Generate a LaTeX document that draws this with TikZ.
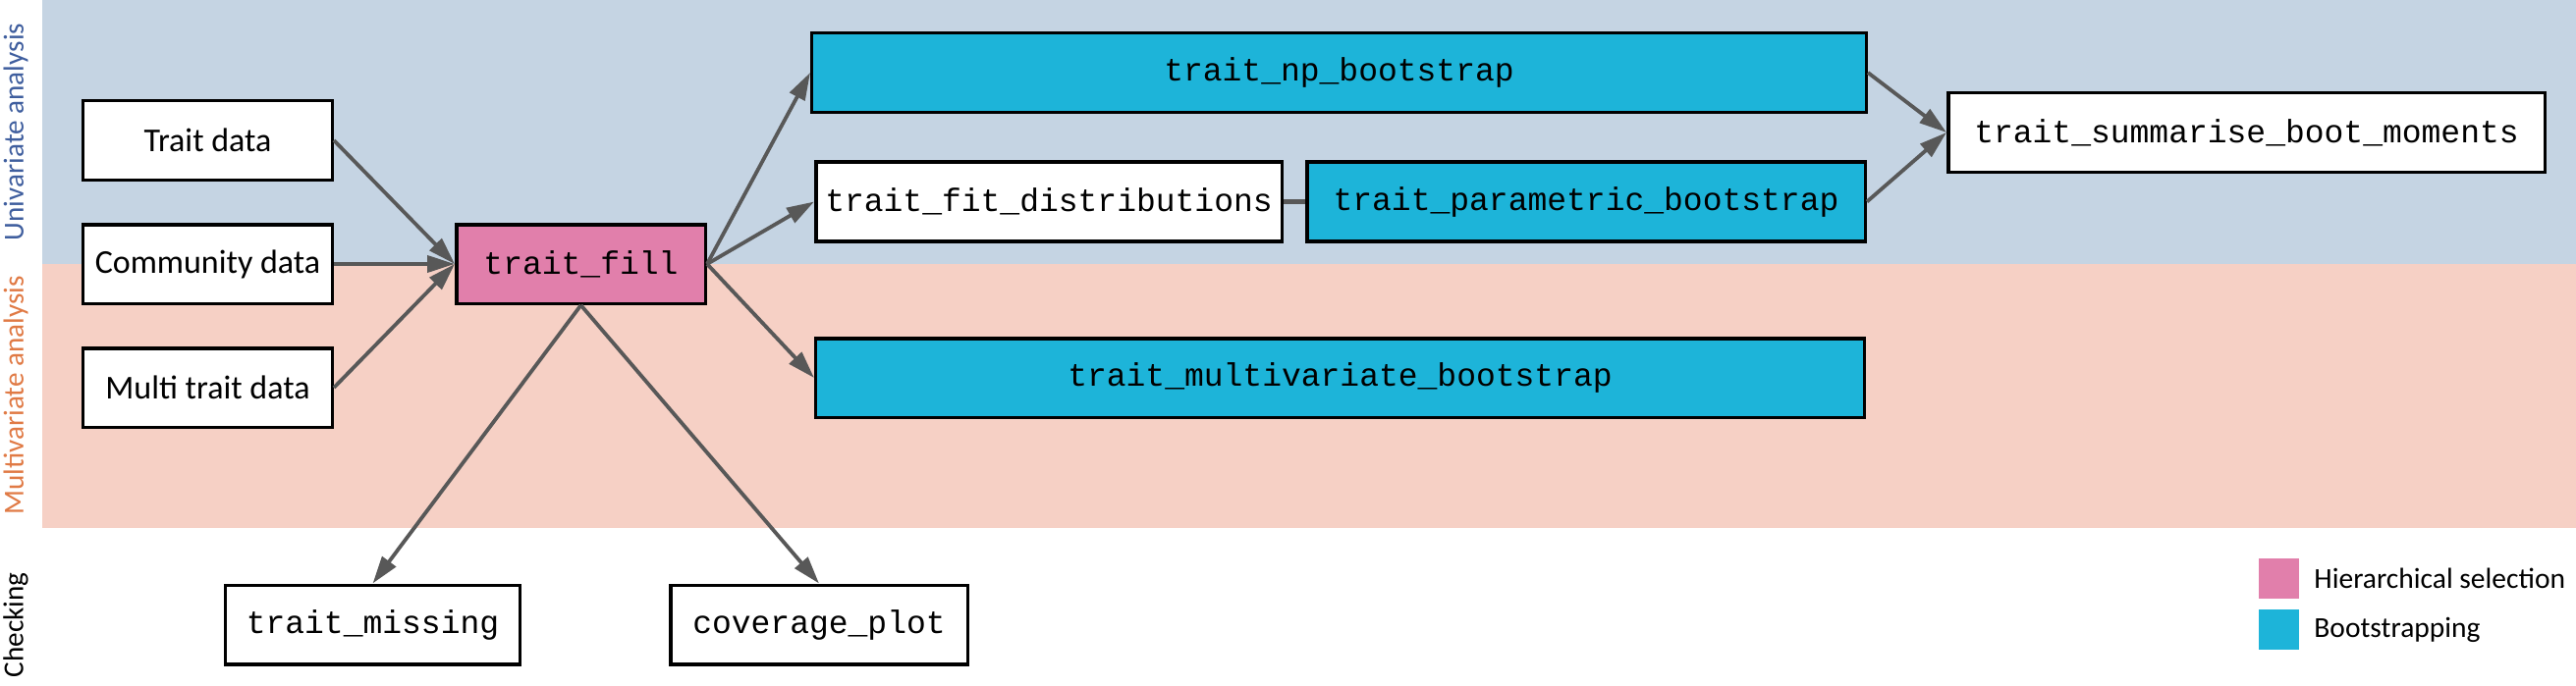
\documentclass[tikz,border=0pt]{standalone}
\usepackage{fontspec}
\setmainfont{Carlito}
\newfontfamily\codefont{Liberation Mono}
\usetikzlibrary{arrows.meta}
\definecolor{bandblue}{HTML}{C5D4E3}
\definecolor{bandpink}{HTML}{F6D0C5}
\definecolor{hierpink}{HTML}{E17FAB}
\definecolor{bootblue}{HTML}{1DB4D9}
\definecolor{arrowgray}{HTML}{585858}
\definecolor{unicol}{HTML}{3F5E9E}
\definecolor{multicol}{HTML}{E07A45}
\begin{document}
\begin{tikzpicture}[x=0.5bp,y=-0.5bp,
  box/.style={draw=black, line width=1.75bp, fill=white, inner sep=0pt, minimum height=40.25bp},
  codebox/.style={box, font=\codefont\fontsize{16.5bp}{20bp}\selectfont},
  textbox/.style={box, minimum width=126.75bp, font=\fontsize{17bp}{20bp}\selectfont},
  hier/.style={fill=hierpink},
  boot/.style={fill=bootblue},
  conn/.style={draw=arrowgray, line width=1.9bp, -{Triangle[length=14bp,width=8.5bp]}},
  plainconn/.style={draw=arrowgray, line width=2.2bp},
  sidelabel/.style={rotate=90, inner sep=0pt, font=\fontsize{14.6bp}{17bp}\selectfont},
  legsq/.style={minimum size=20.5bp, inner sep=0pt},
  legtext/.style={anchor=west, inner sep=0pt, font=\fontsize{14.75bp}{17bp}\selectfont}
]
\useasboundingbox (0,0) rectangle (2623,698);
% bands
\fill[bandblue] (43,0) rectangle (2623,269);
\fill[bandpink] (43,269) rectangle (2623,538);
% side labels
\node[sidelabel, text=unicol] (lu) at (16,134.5) {Univariate analysis};
\node[sidelabel, text=multicol] (lm) at (16,403) {Multivariate analysis};
\node[sidelabel, text=black] (lc) at (16,637) {Checking};
% input nodes
\node[textbox] (trait) at (211.5,143) {Trait data};
\node[textbox] (comm) at (211.5,269) {Community data};
\node[textbox] (multi) at (211.5,395) {Multi trait data};
% functions
\node[codebox, hier, minimum width=126.75bp] (fill) at (591.5,269) {trait\_fill};
\node[codebox, boot, minimum width=536.75bp] (np) at (1363.5,74) {trait\_np\_bootstrap};
\node[codebox, minimum width=237.25bp] (fit) at (1068,205.5) {trait\_fit\_distributions};
\node[codebox, boot, minimum width=284.25bp] (param) at (1615,205.5) {trait\_parametric\_bootstrap};
\node[codebox, minimum width=303.75bp] (summ) at (2287.5,135) {trait\_summarise\_boot\_moments};
\node[codebox, boot, minimum width=533.75bp] (mvb) at (1364.5,385) {trait\_multivariate\_bootstrap};
\node[codebox, minimum width=149.75bp] (miss) at (379.5,636.5) {trait\_missing};
\node[codebox, minimum width=151.25bp] (cov) at (834,636.5) {coverage\_plot};
% connectors
\draw[conn] (trait.east) -- (fill.west);
\draw[conn] (comm.east) -- (fill.west);
\draw[conn] (multi.east) -- (fill.west);
\draw[conn] (fill.east) -- (np.west);
\draw[conn] (fill.east) -- (fit.west);
\draw[conn] (fill.east) -- (mvb.west);
\draw[plainconn] (fit.east) -- (param.west);
\draw[conn] (np.east) -- (summ.west);
\draw[conn] (param.east) -- (summ.west);
\draw[conn] (fill.south) -- (miss.north);
\draw[conn] (fill.south) -- (cov.north);
% legend
\node[legsq, fill=hierpink] (lgp) at (2320.5,589.5) {};
\node[legsq, fill=bootblue] (lgb) at (2320.5,641.5) {};
\node[legtext] (lgpt) at (2356,589.5) {Hierarchical selection};
\node[legtext] (lgbt) at (2356,641.5) {Bootstrapping};
\end{tikzpicture}
\end{document}
